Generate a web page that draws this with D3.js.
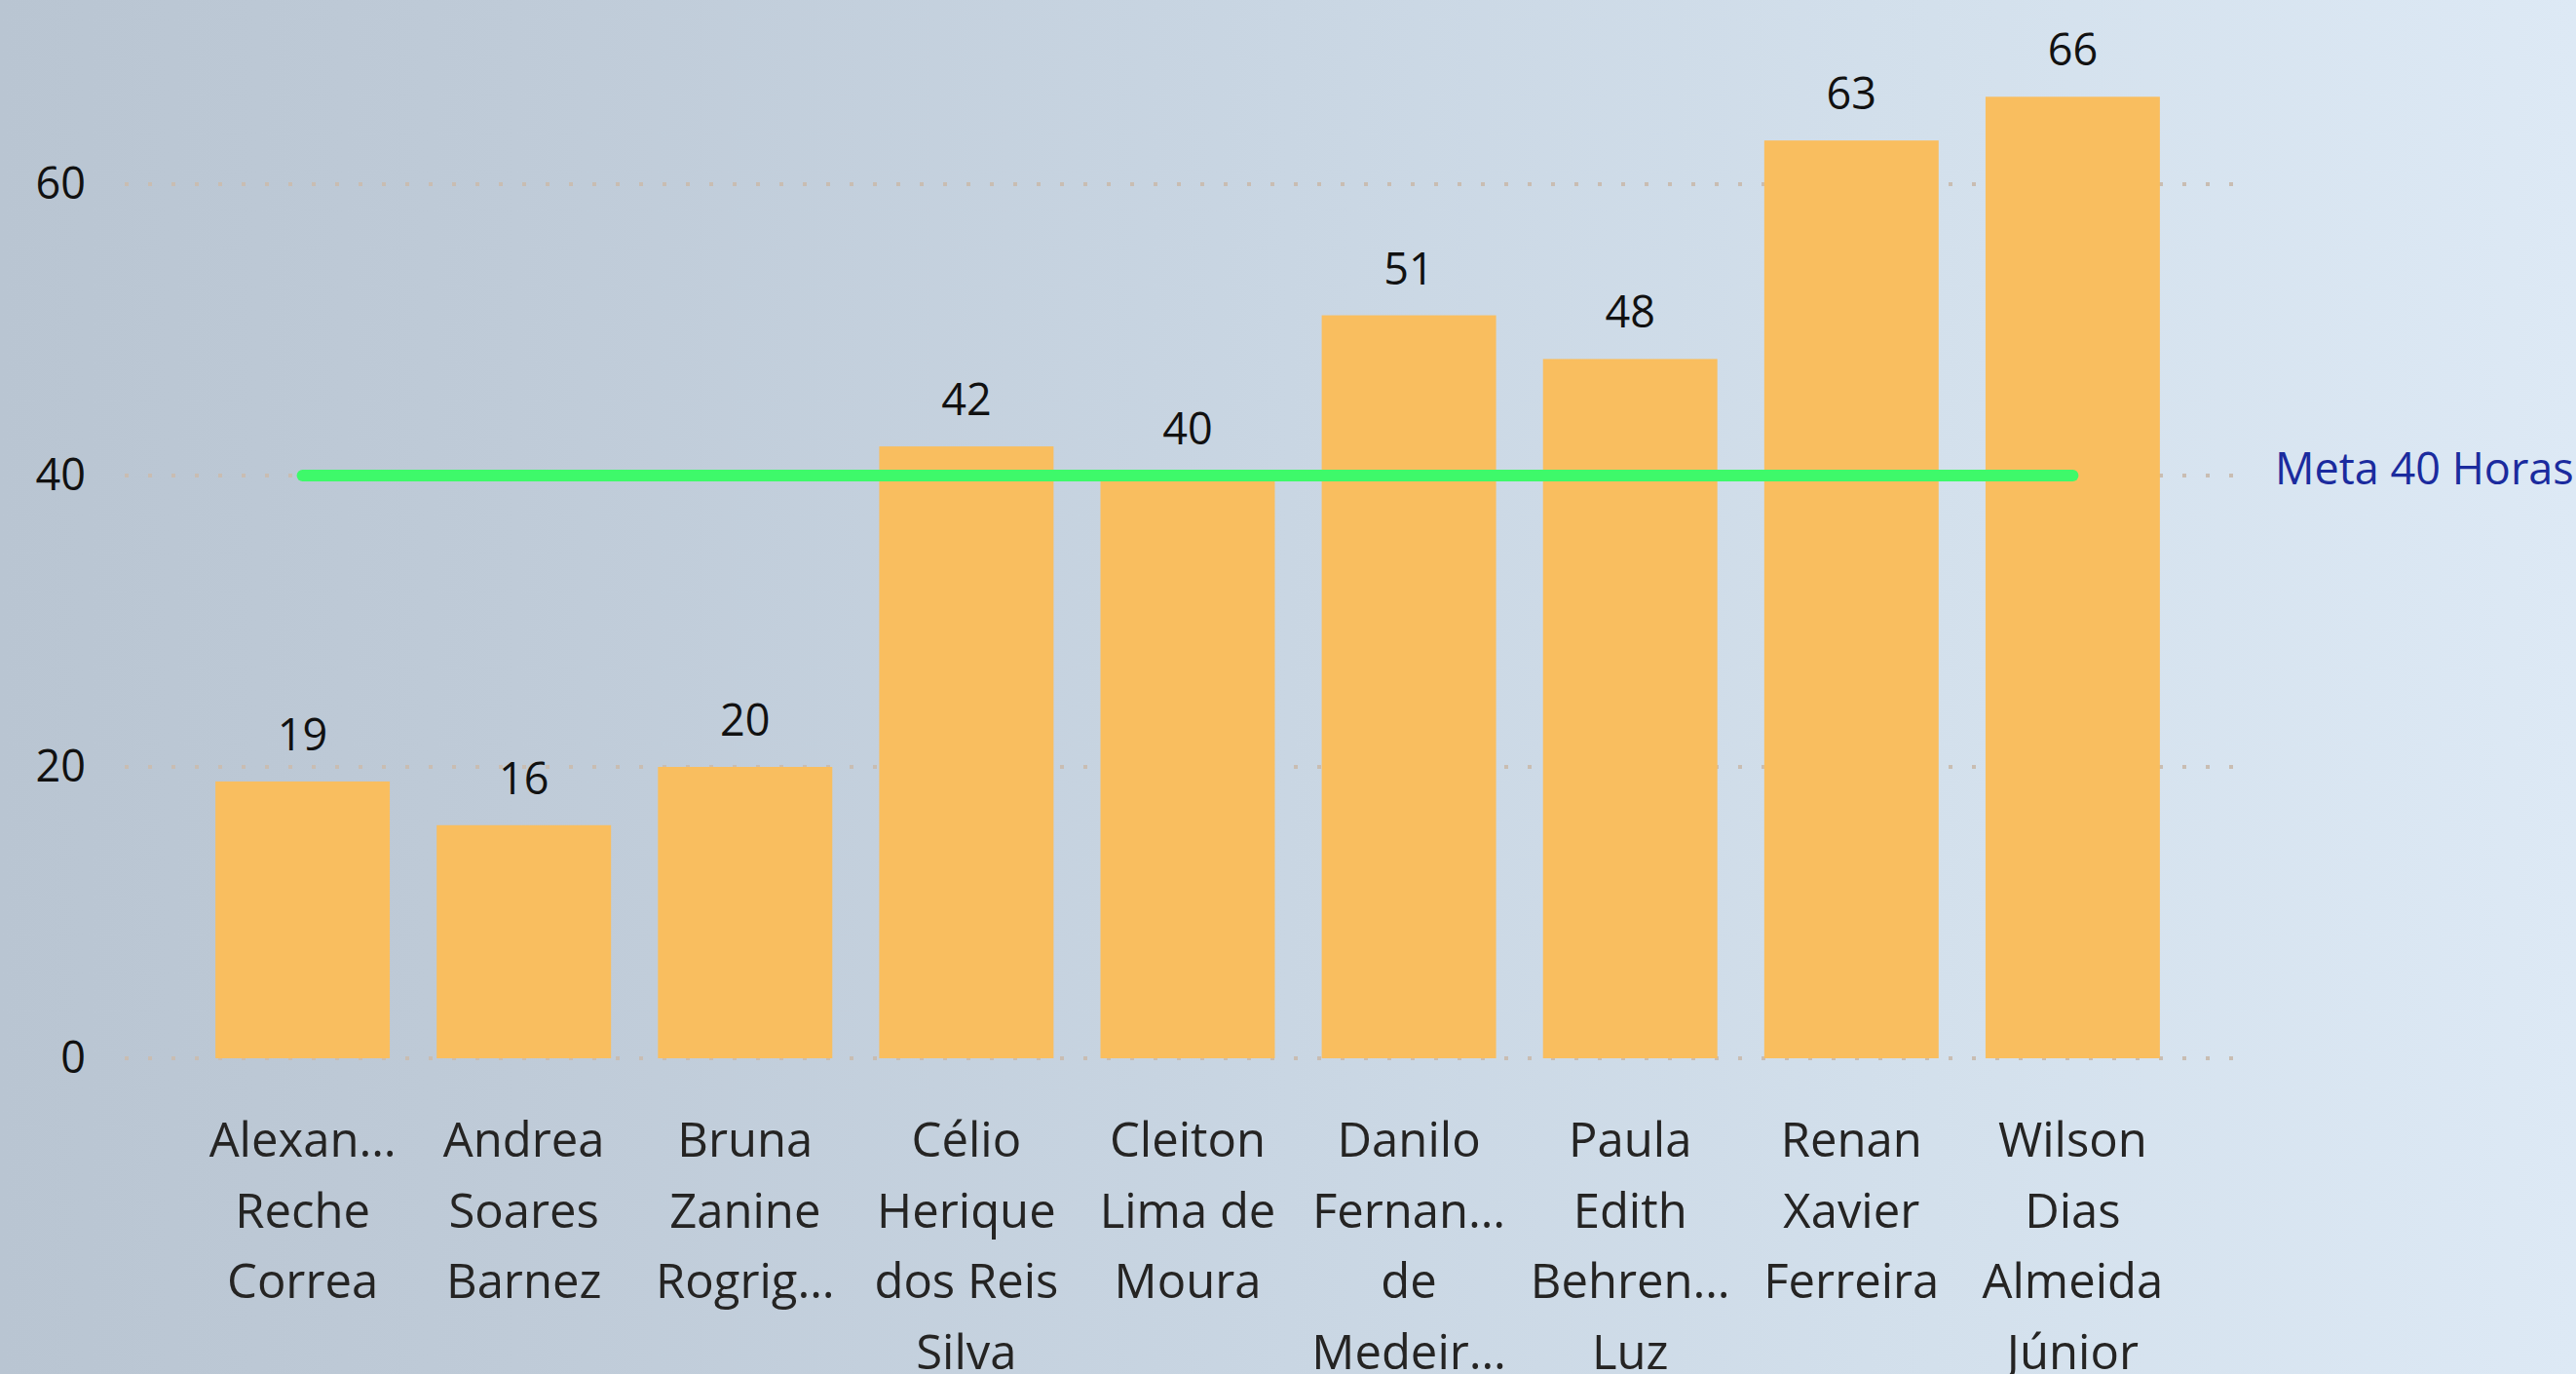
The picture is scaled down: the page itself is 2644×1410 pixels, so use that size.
<!DOCTYPE html>
<html>
<head>
<meta charset="utf-8">
<script src="https://cdn.jsdelivr.net/npm/d3@7"></script>
<style>
  html, body { margin: 0; padding: 0; overflow: hidden; }
  body { width: 2644px; height: 1410px; }
  svg { display: block; font-family: "Segoe UI", "Open Sans", sans-serif; }
</style>
</head>
<body>
<div id="chart"></div>
<script>
// data
const nameLines = [
  ['Alexan…', 'Reche', 'Correa'],
  ['Andrea', 'Soares', 'Barnez'],
  ['Bruna', 'Zanine', 'Rogrig…'],
  ['Célio', 'Herique', 'dos Reis', 'Silva'],
  ['Cleiton', 'Lima de', 'Moura'],
  ['Danilo', 'Fernan…', 'de', 'Medeir…'],
  ['Paula', 'Edith', 'Behren…', 'Luz'],
  ['Renan', 'Xavier', 'Ferreira'],
  ['Wilson', 'Dias', 'Almeida', 'Júnior'],
];
const categories = nameLines.map((l) => l.join(' '));
const hours = [19, 16, 20, 42, 40, 51, 48, 63, 66];
const goalValue = 40;
const goalLabel = 'Meta 40 Horas';
const yTicks = [0, 20, 40, 60];

const W = 2644, H = 1410;
const plot = { left: 128, right: 2292, top: 10, bottom: 1086 };

const svg = d3.select('#chart').append('svg')
  .attr('width', W).attr('height', H);

// background
const grad = svg.append('defs').append('linearGradient')
  .attr('id', 'bg').attr('x1', 0).attr('x2', 1).attr('y1', 0).attr('y2', 0);
[[0, '#b9c5d2'], [0.2, '#bfcbd8'], [0.5, '#c9d6e3'], [0.75, '#d3e0ec'], [1, '#dde9f5']]
  .forEach(([o, c]) => grad.append('stop').attr('offset', o).attr('stop-color', c));
svg.append('rect').attr('width', W).attr('height', H).attr('fill', 'url(#bg)');

const x = d3.scaleBand().domain(categories).range([plot.left, 2310])
  .paddingInner(0.212).paddingOuter(0.41);
const y = d3.scaleLinear().domain([0, 72]).range([plot.bottom, plot.bottom - 72 * 14.95]);

// gridlines
svg.append('g').selectAll('line').data(yTicks).join('line')
  .attr('x1', plot.left).attr('x2', plot.right)
  .attr('y1', (d) => y(d)).attr('y2', (d) => y(d))
  .attr('stroke', '#c9bdb2').attr('stroke-width', 4)
  .attr('stroke-dasharray', '4,20');

// y axis
const yAxis = svg.append('g').attr('transform', 'translate(88,0)')
  .call(d3.axisLeft(y).tickValues(yTicks).tickSize(0).tickPadding(0));
yAxis.select('.domain').remove();
yAxis.selectAll('text').attr('font-size', 45).attr('fill', '#111')
  .attr('font-family', '"Segoe UI", "Open Sans", sans-serif');

// bars
svg.append('g').selectAll('rect').data(hours).join('rect')
  .attr('x', (_, i) => x(categories[i]))
  .attr('width', x.bandwidth())
  .attr('y', (d) => y(d))
  .attr('height', (d) => y(0) - y(d))
  .attr('fill', '#f9be5f');

// value labels
svg.append('g').selectAll('text').data(hours).join('text')
  .attr('x', (_, i) => x(categories[i]) + x.bandwidth() / 2)
  .attr('y', (d) => y(d) - 32)
  .attr('text-anchor', 'middle').attr('font-size', 45).attr('fill', '#111')
  .text((d) => d);

// goal line
svg.append('line')
  .attr('x1', x(categories[0]) + x.bandwidth() / 2)
  .attr('x2', x(categories[categories.length - 1]) + x.bandwidth() / 2)
  .attr('y1', y(goalValue)).attr('y2', y(goalValue))
  .attr('stroke', '#3ef96a').attr('stroke-width', 12).attr('stroke-linecap', 'round');

svg.append('text').attr('x', 2335).attr('y', y(goalValue) + 9)
  .attr('font-size', 45).attr('fill', '#1b2b9e').text(goalLabel);

// x axis with wrapped names
const xAxis = svg.append('g').attr('transform', `translate(0,${plot.bottom})`)
  .call(d3.axisBottom(x).tickSize(0).tickFormat(''));
xAxis.select('.domain').remove();
xAxis.selectAll('.tick text').each(function (d, i) {
  const t = d3.select(this).attr('y', 0).attr('dy', null)
    .attr('font-size', 49).attr('fill', '#252423')
    .attr('font-family', '"Segoe UI", "Open Sans", sans-serif');
  nameLines[i].forEach((line, k) => {
    t.append('tspan').attr('x', 0).attr('y', 101 + k * 72.5).text(line);
  });
});
</script>
</body>
</html>
